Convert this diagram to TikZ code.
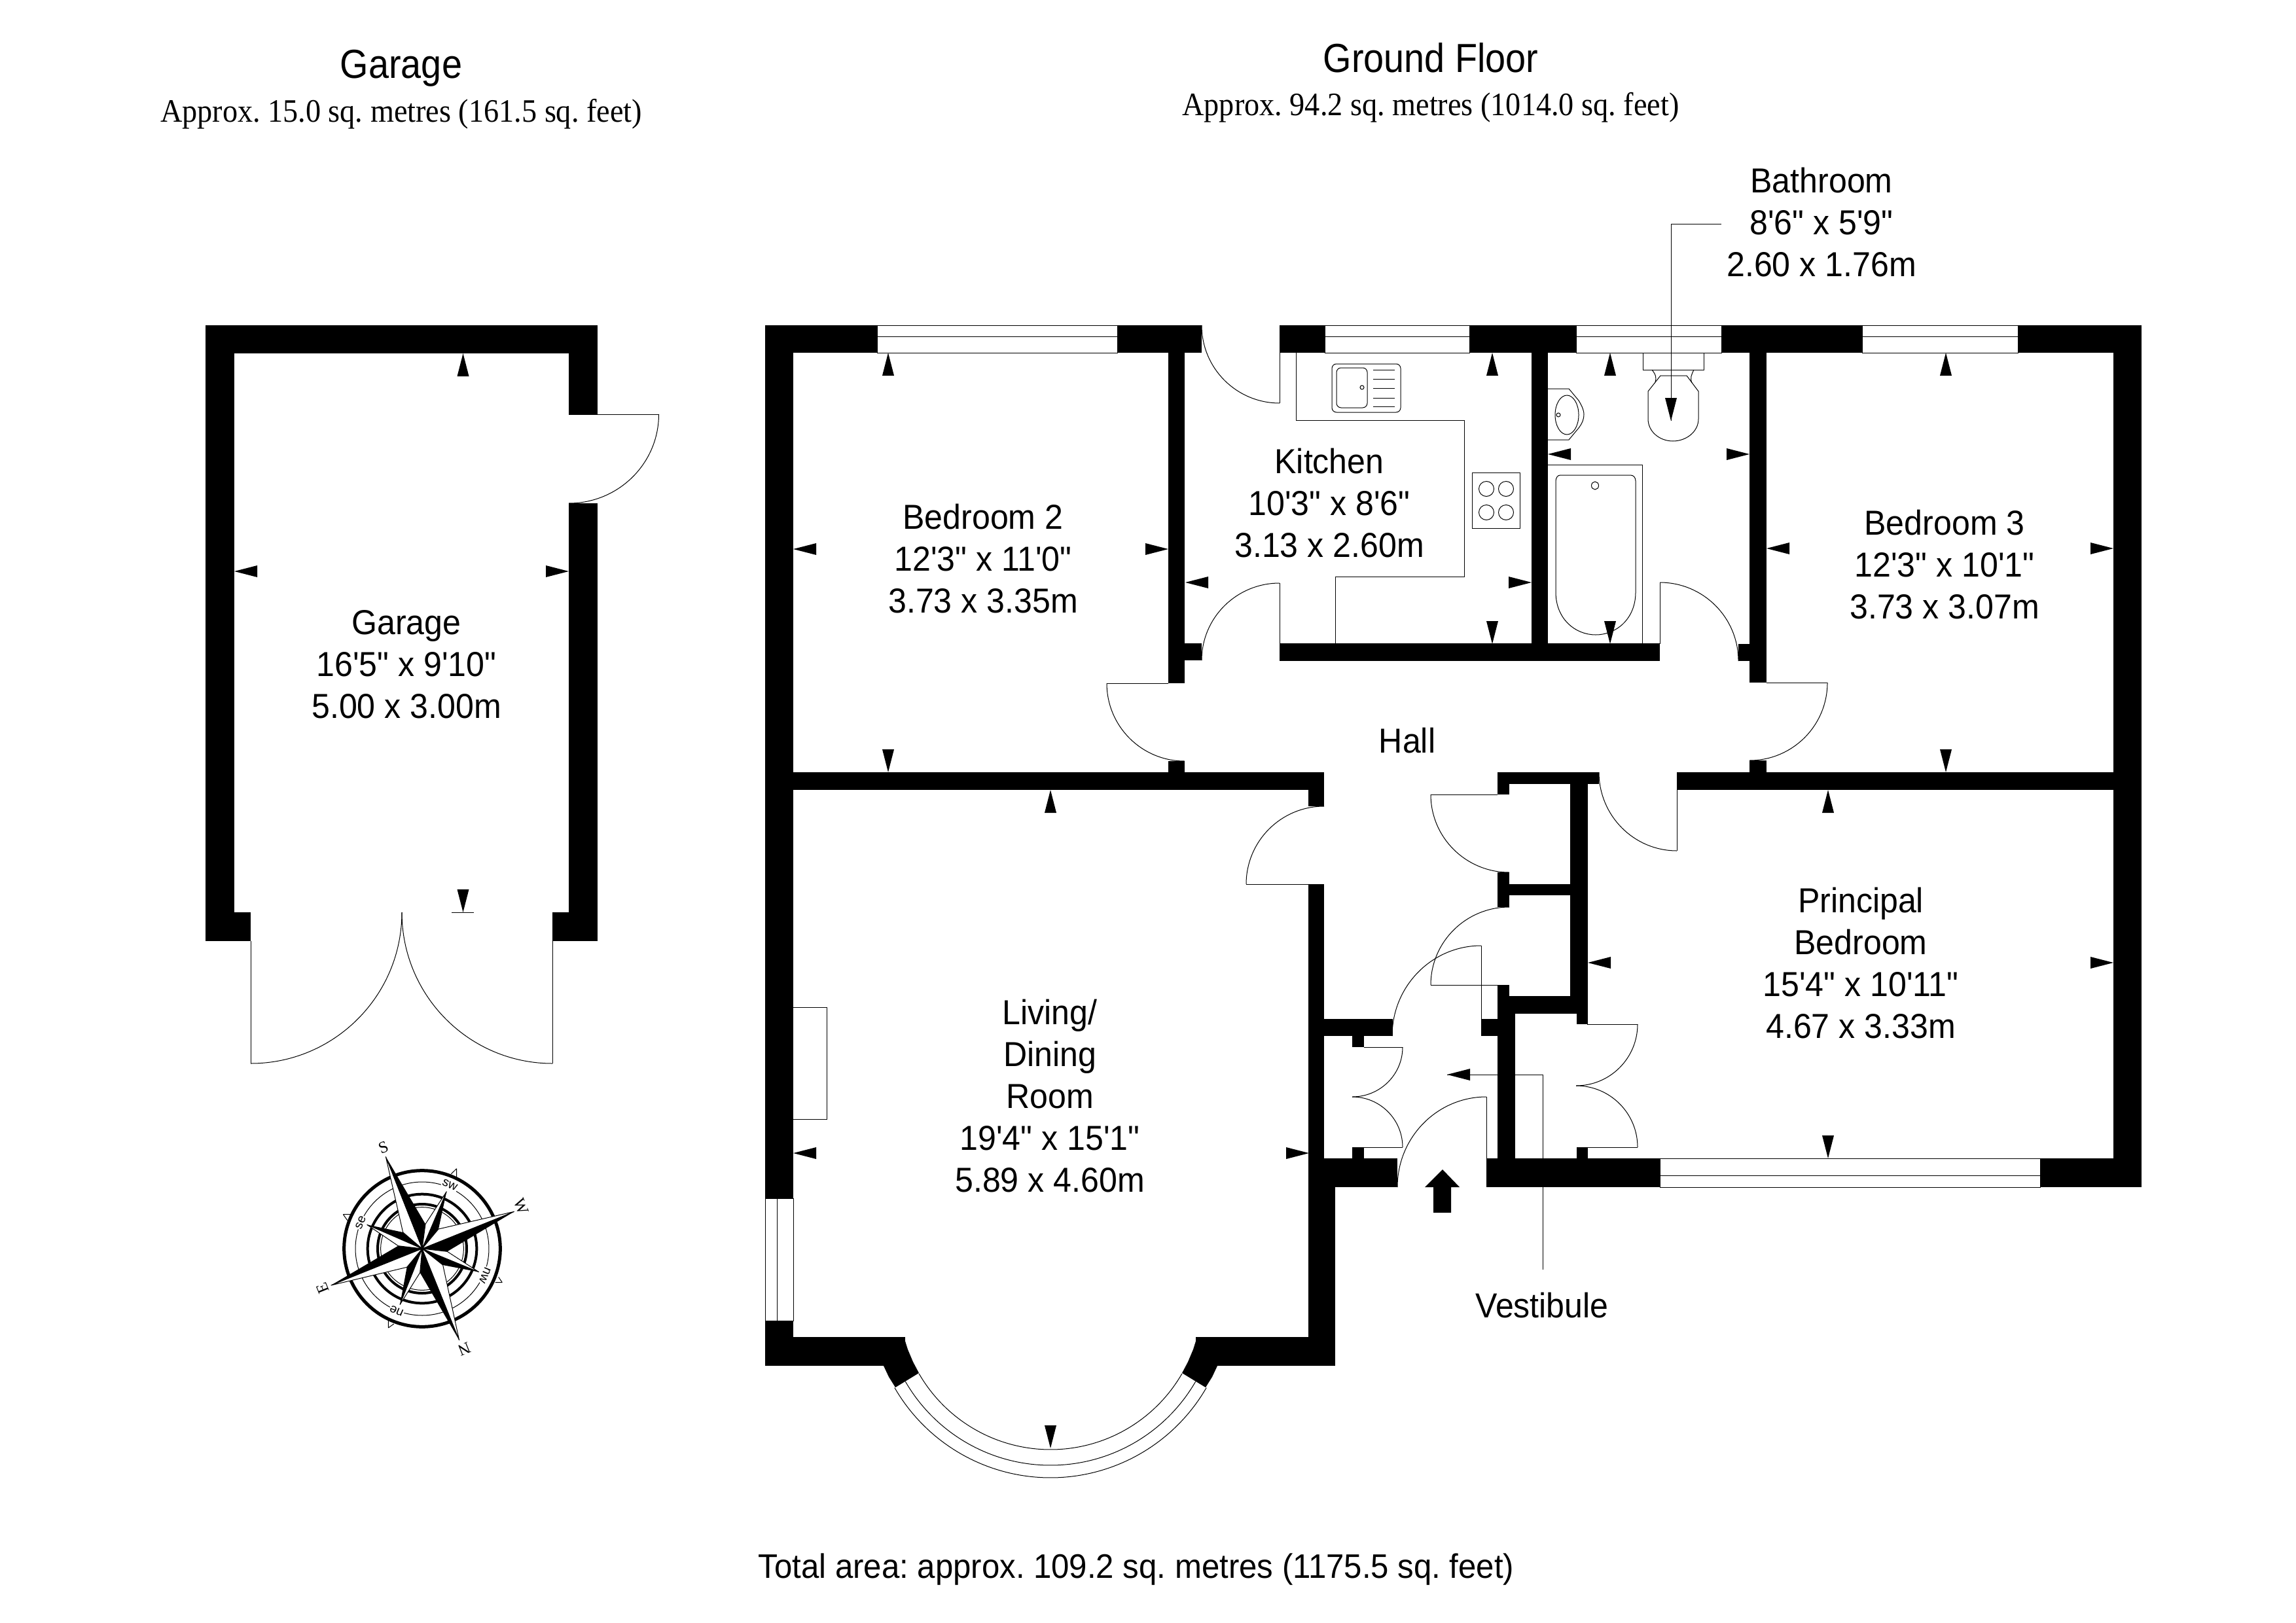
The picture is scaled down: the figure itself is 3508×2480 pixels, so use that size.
\documentclass[tikz,border=0pt]{standalone}
\usepackage{fontspec}
\setmainfont{Liberation Sans}
\newfontfamily\roomface[FakeStretch=0.945]{Liberation Sans}
\newfontfamily\titleface[FakeStretch=0.90]{Liberation Sans}
\newfontfamily\serifface[FakeStretch=0.925]{Liberation Serif}
\newfontfamily\plainserif{Liberation Serif}
\newfontfamily\plainsans{Liberation Sans}
\usetikzlibrary{calc}
\tikzset{
  wall/.style={fill=black,draw=none},
  thinl/.style={draw=black,line width=1pt},
  roomlabel/.style={font=\roomface\frenchspacing\fontsize{53}{64}\selectfont,align=center,inner sep=0pt},
  totallabel/.style={font=\roomface\frenchspacing\fontsize{52}{64}\selectfont,align=center,inner sep=0pt},
  titlelabel/.style={font=\titleface\frenchspacing\fontsize{62}{70}\selectfont,align=center,inner sep=0pt},
  approxlabel/.style={font=\serifface\frenchspacing\fontsize{50}{60}\selectfont,align=center,inner sep=0pt},
  cpt/.style={font=\plainserif\fontsize{25}{25}\selectfont,inner sep=0pt},
  cmin/.style={font=\plainsans\fontsize{19}{19}\selectfont,inner sep=1pt,fill=white},
}
\newcommand{\Wr}[4]{\fill[wall] (#1,#2) rectangle (#3,#4);}
% quarter arc from A to B, centre C (ellipse quadrant)
\newcommand{\qarc}[6]{%
  \pgfmathsetmacro\qax{#1+0.5523*(#3-#5)}%
  \pgfmathsetmacro\qay{#2+0.5523*(#4-#6)}%
  \pgfmathsetmacro\qbx{#3+0.5523*(#1-#5)}%
  \pgfmathsetmacro\qby{#4+0.5523*(#2-#6)}%
  \draw[thinl] (#1,#2) .. controls (\qax,\qay) and (\qbx,\qby) .. (#3,#4);}
% dimension arrows: tip x,y
\newcommand{\arU}[2]{\fill (#1,#2) -- (#1-9,#2+35) -- (#1+9,#2+35) -- cycle;}
\newcommand{\arD}[2]{\fill (#1,#2) -- (#1-9,#2-35) -- (#1+9,#2-35) -- cycle;}
\newcommand{\arL}[2]{\fill (#1,#2) -- (#1+35,#2-9) -- (#1+35,#2+9) -- cycle;}
\newcommand{\arR}[2]{\fill (#1,#2) -- (#1-35,#2-9) -- (#1-35,#2+9) -- cycle;}
\begin{document}
\begin{tikzpicture}[x=1pt,y=-1pt]
\useasboundingbox (0,0) rectangle (3508,2480);
\fill[white] (0,0) rectangle (3508,2480);

%% ---------- GARAGE ----------
\Wr{314}{497}{913}{540}
\Wr{314}{497}{358}{1438}
\Wr{314}{1394}{383}{1438}
\Wr{869}{497}{913}{633}
\Wr{869}{769}{913}{1438}
\Wr{844}{1394}{913}{1438}
\draw[thinl] (869,633) -- (1006.5,633);
\qarc{1006.5}{633}{869}{769}{869}{633}
\draw[thinl] (383,1438) -- (383,1625);
\qarc{383}{1625}{614}{1394}{383}{1394}
\draw[thinl] (844,1438) -- (844,1625);
\qarc{844}{1625}{614}{1394}{844}{1394}
\arU{707.5}{540}
\arL{358}{873}
\arR{869}{873}
\arD{707.5}{1394}
\draw[thinl] (690,1394) -- (724,1394);

%% ---------- GROUND FLOOR WALLS ----------
% top wall
\Wr{1169}{497}{1340}{539}
\Wr{1707}{497}{1836}{539}
\Wr{1955}{497}{2024}{539}
\Wr{2245}{497}{2408}{539}
\Wr{2630}{497}{2845}{539}
\Wr{3083}{497}{3272}{539}
% outer left / right
\Wr{1169}{497}{1212}{1831}
\Wr{1169}{2018}{1212}{2087}
\Wr{3229}{497}{3272}{1814}
% bottom left
\Wr{1169}{2043}{1383}{2087}
\Wr{1827}{2043}{2040}{2087}
\Wr{1999}{1351}{2023}{1814}
\Wr{1999}{1770}{2040}{2087}
\Wr{1999}{1770}{2135}{1814}
\Wr{2023}{1557}{2128}{1583}
\Wr{2066}{1583}{2084}{1600}
\Wr{2066}{1753}{2084}{1770}
% bay wall ends
\fill[wall] (1381,2043) -- (1387,2062) -- (1395,2081) -- (1404,2098) -- (1368,2120) -- (1358,2104) -- (1350,2087) -- (1350,2043) -- cycle;
\fill[wall] (1829,2043) -- (1823,2062) -- (1815,2081) -- (1806,2098) -- (1842,2120) -- (1852,2104) -- (1860,2087) -- (1860,2043) -- cycle;
% bedroom2/kitchen wall
\Wr{1785}{539}{1810}{1044}
\Wr{1810}{983}{1836}{1009}
\Wr{1785}{1163}{1810}{1207}
% bedroom2/living wall
\Wr{1212}{1180}{2023}{1207}
\Wr{1999}{1180}{2023}{1232}
% kitchen bottom wall
\Wr{1955}{983}{2536}{1010}
\Wr{2340}{539}{2365}{1010}
% bath/bed3 wall
\Wr{2673}{539}{2699}{1043}
\Wr{2656}{984}{2673}{1010}
\Wr{2673}{1162}{2699}{1207}
% principal top wall
\Wr{2562}{1180}{3229}{1207}
% closets
\Wr{2288}{1180}{2443}{1198}
\Wr{2288}{1180}{2306}{1214}
\Wr{2399}{1180}{2426}{1549}
\Wr{2288}{1333}{2306}{1386}
\Wr{2306}{1351}{2399}{1368}
\Wr{2288}{1505}{2306}{1549}
\Wr{2288}{1522}{2426}{1549}
\Wr{2409}{1549}{2426}{1565}
\Wr{2288}{1522}{2315}{1814}
\Wr{2263}{1557}{2288}{1583}
\Wr{2409}{1753}{2426}{1770}
% front bottom wall
\Wr{2271}{1770}{2536}{1814}
\Wr{3117}{1770}{3272}{1814}

%% ---------- WINDOWS ----------
\draw[thinl] (1340,497) rectangle (1707,539) (1340,514) -- (1707,514);
\draw[thinl] (2024,497) rectangle (2245,539) (2024,514) -- (2245,514);
\draw[thinl] (2408,497) rectangle (2630,539) (2408,514) -- (2630,514);
\draw[thinl] (2845,497) rectangle (3083,539) (2845,514) -- (3083,514);
\draw[thinl] (2536,1770) rectangle (3117,1814) (2536,1796) -- (3117,1796);
\draw[thinl] (1169,1831) rectangle (1212,2018) (1187,1831) -- (1187,2018);
% bay window
\draw[thinl] plot[domain=30:150,samples=80] ({1605+232*cos(\x)},{1983+232*sin(\x)});
\draw[thinl] plot[domain=30:150,samples=80] ({1605+256*cos(\x)},{1983+256*sin(\x)});
\draw[thinl] plot[domain=30:150,samples=80] ({1605+275*cos(\x)},{1983+275*sin(\x)});

%% ---------- DOORS ----------
% kitchen back door
\draw[thinl] (1955,539) -- (1955,616);
\qarc{1955}{616}{1836}{497}{1955}{497}
% kitchen door
\draw[thinl] (1955,983) -- (1955,891);
\qarc{1955}{891}{1836}{1009}{1955}{1009}
% bedroom 2
\draw[thinl] (1785,1044) -- (1691,1044);
\qarc{1691}{1044}{1810}{1163}{1810}{1044}
% living
\draw[thinl] (1999,1351) -- (1904,1351);
\qarc{1904}{1351}{2023}{1232}{2023}{1351}
% closet doors hall
\draw[thinl] (2288,1214) -- (2186,1214);
\qarc{2186}{1214}{2306}{1333}{2306}{1214}
\draw[thinl] (2288,1505) -- (2186,1505);
\qarc{2186}{1505}{2306}{1386}{2306}{1505}
% vestibule inner door
\draw[thinl] (2263,1557) -- (2263,1445);
\qarc{2263}{1445}{2127}{1583}{2263}{1583}
% front door
\draw[thinl] (2271,1770) -- (2271,1676);
\qarc{2271}{1676}{2135}{1814}{2271}{1814}
% double cupboard left
\draw[thinl] (2084,1600) -- (2143,1600);
\qarc{2143}{1600}{2066}{1676}{2066}{1600}
\draw[thinl] (2084,1753) -- (2143,1753);
\qarc{2143}{1753}{2066}{1676}{2066}{1753}
% double cupboard principal
\draw[thinl] (2425,1565) -- (2502,1565);
\qarc{2502}{1565}{2408}{1659}{2408}{1565}
\draw[thinl] (2425,1753) -- (2502,1753);
\qarc{2502}{1753}{2408}{1659}{2408}{1753}
% bathroom door
\draw[thinl] (2536,984) -- (2536,890);
\qarc{2536}{890}{2656}{1010}{2536}{1010}
% bedroom 3
\draw[thinl] (2699,1043) -- (2792,1043);
\qarc{2792}{1043}{2673}{1162}{2673}{1043}
% principal
\draw[thinl] (2562,1207) -- (2562,1300);
\qarc{2562}{1300}{2443}{1180}{2562}{1180}

%% ---------- KITCHEN FITTINGS ----------
\draw[thinl] (1980,539) -- (1980,642) -- (2237,642) -- (2237,881) -- (2040,881) -- (2040,983);
\draw[thinl,rounded corners=7pt] (2035,556) rectangle (2140,630);
\draw[thinl,rounded corners=7pt] (2042,562) rectangle (2089,623);
\foreach \yy in {565,579,593,608,621} \draw[thinl] (2098,\yy) -- (2131,\yy);
\draw[thinl] (2081,592) circle (3);
\draw[thinl] (2249,722) rectangle (2322,807);
\foreach \xx in {2271,2301} \foreach \yy in {747,783} \draw[thinl] (\xx,\yy) circle (11.5);

%% ---------- BATHROOM FITTINGS ----------
\draw[thinl] (2510,539) -- (2510,565) -- (2603,565) -- (2603,539);
\draw[thinl] (2524,565) .. controls (2530,573) and (2531,577) .. (2529,584);
\draw[thinl] (2588,565) .. controls (2584,573) and (2582,578) .. (2585,585);
\draw[thinl] (2537,574) -- (2577,574) -- (2595,598) -- (2595,640) .. controls (2595,660) and (2576,674) .. (2556,674) .. controls (2536,674) and (2518,660) .. (2518,640) -- (2518,598) -- cycle;
% basin
\draw[thinl] (2365,594) -- (2397,594) -- (2412,612) .. controls (2418,622) and (2420,628) .. (2420,633) .. controls (2420,640) and (2418,646) .. (2412,654) -- (2397,672) -- (2365,672);
\draw[thinl] (2394,634) ellipse (18 and 30);
\draw[thinl] (2381,634) circle (3);
% bath
\draw[thinl] (2365,710) -- (2509,710) -- (2509,984);
\draw[thinl] (2384,726) -- (2491,726) .. controls (2496,726) and (2499,730) .. (2499,735) -- (2499,905) .. controls (2499,945) and (2470,970) .. (2438,970) .. controls (2406,970) and (2377,945) .. (2377,905) -- (2377,735) .. controls (2377,730) and (2380,726) .. (2384,726);
\draw[thinl] (2437,742) ellipse (5.5 and 6);
% chimney
\draw[thinl] (1212,1539) -- (1263,1539) -- (1263,1710) -- (1212,1710);

%% ---------- DIMENSION ARROWS ----------
\arU{1357}{539} \arD{1357}{1180} \arL{1212}{839} \arR{1785}{839}
\arU{2280}{539} \arD{2280}{984} \arL{1811}{890} \arR{2340}{890}
\arU{2460}{539} \arD{2460}{984} \arL{2365}{694} \arR{2673}{694}
\arU{2973}{539} \arD{2973}{1180} \arL{2699}{838} \arR{3229}{838}
\arU{2793}{1207} \arD{2793}{1770} \arL{2426}{1471} \arR{3229}{1471}
\arU{1605}{1207} \arD{1605}{2213} \arL{1212}{1762} \arR{2000}{1762}

%% ---------- LEADERS ----------
\node[roomlabel] (bathroom) at (2783,340) {Bathroom\\8'6" x 5'9"\\2.60 x 1.76m};
\node[roomlabel] (vestibule) at (2356,1995) {Vestibule};
\coordinate (bathtip) at (2553,643);
\coordinate (bathelbow) at (2553,343);
\coordinate (bathend) at (2630,343);
\coordinate (vesttip) at (2211,1642);
\coordinate (vestelbow) at (2357,1642);
\coordinate (vestend) at (2357,1940);
\draw[thinl] (bathend) -- (bathelbow) -- (bathtip);
\fill (bathtip) -- ++(-9,-35) -- ++(18,0) -- cycle;
\draw[thinl] (vestend) -- (vestelbow) -- (vesttip);
\fill (vesttip) -- ++(35,-9) -- ++(0,18) -- cycle;
% entrance arrow
\fill (2204,1787) -- (2230,1814) -- (2217,1814) -- (2217,1853) -- (2190,1853) -- (2190,1814) -- (2177,1814) -- cycle;

%% ---------- TEXT ----------
\node[titlelabel] (t1) at (613,104) {Garage};
\node[approxlabel] (t2) at (613,174) {Approx. 15.0 sq. metres (161.5 sq. feet)};
\node[titlelabel] (t3) at (2186,88) {Ground Floor};
\node[approxlabel] (t4) at (2186,164) {Approx. 94.2 sq. metres (1014.0 sq. feet)};
\node[roomlabel] (bed2) at (1502,854) {Bedroom 2\\12'3" x 11'0"\\3.73 x 3.35m};
\node[roomlabel] (kit) at (2031,769) {Kitchen\\10'3" x 8'6"\\3.13 x 2.60m};
\node[roomlabel] (bed3) at (2971,863) {Bedroom 3\\12'3" x 10'1"\\3.73 x 3.07m};
\node[roomlabel] (hall) at (2150,1132) {Hall};
\node[roomlabel] (princ) at (2843,1472) {Principal\\Bedroom\\15'4" x 10'11"\\4.67 x 3.33m};
\node[roomlabel] (liv) at (1604,1675) {Living/\\Dining\\Room\\19'4" x 15'1"\\5.89 x 4.60m};
\node[roomlabel] (gar) at (621,1015) {Garage\\16'5" x 9'10"\\5.00 x 3.00m};
\node[totallabel] (total) at (1736,2398) {Total area: approx. 109.2 sq. metres (1175.5 sq. feet)};

%% ---------- COMPASS ----------
\begin{scope}[shift={(645,1908)},x=0.3333pt,y=-0.3333pt]
  \draw[thinl] (158,-367) -- (133,-343) (158,-367) -- (158,-330);
  \draw[thinl] (-362,-157) -- (-328,-157) (-362,-157) -- (-343,-130);
  \draw[thinl] (367,155) -- (335,155) (367,155) -- (350,130);
  \draw[thinl] (-155,363) -- (-155,330) (-155,363) -- (-130,345);
  \fill[white] (0,0) circle (356);
  \draw[line width=5pt] (0,0) circle (358);
  \draw[line width=1pt] (0,0) circle (306);
  \draw[line width=4pt] (0,0) circle (250);
  \draw[line width=4pt] (0,0) circle (204);
  \draw[line width=1pt] (0,0) circle (190);
  % labels on thin ring
  \node[cmin,rotate=-23] (csw) at (127,-292) {sw};
  \node[cmin,rotate=67] (cse) at (-282,-120) {se};
  \node[cmin,rotate=-113] (cnw) at (288,122) {nw};
  \node[cmin,rotate=157] (cne) at (-117,285) {ne};
  % star
  \foreach \tx/\ty/\cwx/\cwy/\ccx/\ccy in {
    -167/-422/15/-113/-88/-75,
    112/-262/75/-90/15/-113,
    422/-170/115/13/75/-90,
    260/107/95/75/115/13,
    170/420/-10/110/95/75,
    -102/257/-70/85/-10/110,
    -418/168/-110/-13/-70/85,
    -253/-110/-88/-75/-110/-13}{
    \draw[line width=1pt,fill=white] (0,0) -- (\tx,\ty) -- (\ccx,\ccy) -- cycle;
    \fill (0,0) -- (\tx,\ty) -- (\cwx,\cwy) -- cycle;
  }
  \node[cpt,rotate=22] (cS) at (-178,-465) {S};
  \node[cpt,rotate=-68] (cW) at (455,-195) {W};
  \node[cpt,rotate=-158] (cN) at (193,460) {N};
  \node[cpt,rotate=112] (cE) at (-457,180) {E};
\end{scope}
\end{tikzpicture}
\end{document}
